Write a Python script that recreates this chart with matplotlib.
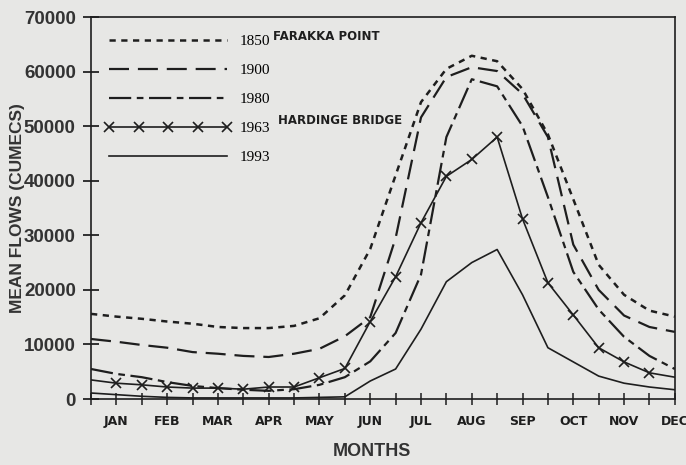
import numpy as np
import matplotlib
matplotlib.use("Agg")
import matplotlib.pyplot as plt
from matplotlib import font_manager as fm


def pick_font(names):
    # first installed family from the list
    for n in names:
        try:
            fm.findfont(n, fallback_to_default=False)
            return n
        except Exception:
            continue
    return "DejaVu Sans"


narrow = pick_font(["Liberation Sans Narrow", "DejaVu Sans"])
serif = pick_font(["Liberation Serif", "DejaVu Serif"])
sans = pick_font(["Liberation Sans", "DejaVu Sans"])

# half-month positions, JAN..DEC labels sit on the odd ones
x_half = np.arange(24) * 0.5
months = ["JAN", "FEB", "MAR", "APR", "MAY", "JUN",
          "JUL", "AUG", "SEP", "OCT", "NOV", "DEC"]

# Farakka point
flow_1850 = [15600, 15100, 14700, 14200, 13800, 13200, 13000, 13000, 13400, 14800,
             19000, 27500, 41000, 54400, 60500, 62900, 61900, 56800, 48500, 36600,
             24600, 19100, 16200, 15100]
flow_1900 = [11000, 10500, 9900, 9400, 8600, 8300, 7900, 7700, 8300, 9200,
             11500, 15000, 29500, 51600, 59000, 60800, 60100, 55900, 48000, 28300,
             20000, 15300, 13200, 12300]
flow_1980 = [5500, 4600, 4000, 3100, 2400, 2000, 1700, 1500, 1800, 2600,
             4000, 6900, 12100, 22800, 48000, 58600, 57300, 50000, 37000, 23300,
             16400, 11400, 7900, 5500]
# Hardinge bridge
flow_1963 = [3500, 2900, 2600, 2200, 2000, 2000, 1800, 2200, 2200, 3900,
             5600, 14200, 22400, 32300, 40800, 43900, 48000, 33000, 21300, 15400,
             9400, 6800, 4800, 4000]
flow_1993 = [1100, 800, 500, 300, 200, 200, 200, 200, 200, 300,
             400, 3300, 5500, 12800, 21500, 25000, 27400, 19100, 9400, 6800,
             4200, 2900, 2200, 1700]

ink = "#1e1e1e"
bg = "#e7e7e5"

fig = plt.figure(figsize=(6.86, 4.65), dpi=100, facecolor=bg)
ax = fig.add_axes([0.1327, 0.1419, 0.851, 0.8215], facecolor=bg)

ax.plot(x_half, flow_1850, color=ink, lw=1.8, dashes=(2.5, 2.2), label="1850")
ax.plot(x_half, flow_1900, color=ink, lw=1.6, dashes=(9, 4), label="1900")
ax.plot(x_half, flow_1980, color=ink, lw=1.6, dashes=(10, 2.5, 3, 2.5), label="1980")
ax.plot(x_half, flow_1963, color=ink, lw=1.2, marker="x", ms=6.5, mew=1.2,
        markevery=list(range(1, 23)), label="1963")
ax.plot(x_half, flow_1993, color=ink, lw=1.2, label="1993")

ax.set_xlim(0, 11.5)
ax.set_ylim(0, 70000)

ax.set_xticks(x_half)
ax.set_xticklabels(["" if i % 2 == 0 else months[i // 2] for i in range(24)],
                   fontfamily=narrow, fontweight="bold", fontsize=9)
ax.set_yticks(np.arange(0, 70001, 10000))
ax.set_yticklabels([str(v) for v in range(0, 70001, 10000)],
                   fontfamily=sans, fontweight="bold", fontsize=13.5, color="#333333")
ax.tick_params(axis="x", direction="inout", length=9, width=1.1, pad=7, colors=ink)
ax.tick_params(axis="y", direction="inout", length=12, width=1.1, pad=5)

for sp in ax.spines.values():
    sp.set_color(ink)
    sp.set_linewidth(1.2)

ax.set_xlabel("MONTHS", fontfamily=sans, fontweight="bold", fontsize=13,
              color="#333333")
ax.xaxis.set_label_coords(0.481, -0.115)
ax.set_ylabel("MEAN FLOWS (CUMECS)", fontfamily=sans, fontweight="bold",
              fontsize=12.5, color="#333333")
ax.yaxis.set_label_coords(-0.113, 0.5)

leg = ax.legend(loc="upper left", bbox_to_anchor=(0.0, 0.99), frameon=False,
                handlelength=8.3, numpoints=5, labelspacing=1.0, handletextpad=0.5,
                prop={"family": serif, "size": 11})

ax.text(0.312, 0.965, "FARAKKA POINT", transform=ax.transAxes, fontfamily=narrow,
        fontweight="bold", fontsize=8.5, va="top", color=ink)
ax.text(0.32, 0.745, "HARDINGE BRIDGE", transform=ax.transAxes, fontfamily=narrow,
        fontweight="bold", fontsize=8.5, va="top", color=ink)

fig.savefig("out.png", dpi=100, facecolor=bg)
